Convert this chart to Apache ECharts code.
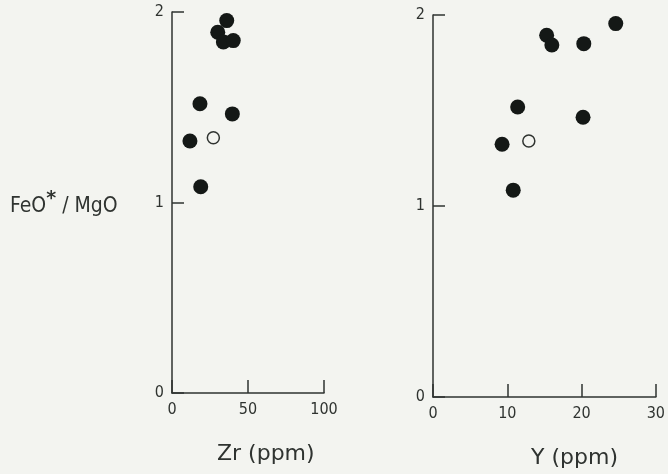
<!DOCTYPE html>
<html>
<head>
<meta charset="utf-8">
<script src="https://cdn.jsdelivr.net/npm/echarts@6/dist/echarts.min.js"></script>
<style>
  html, body { margin: 0; padding: 0; background: #f3f4f0; }
  #chart { width: 668px; height: 474px; }
</style>
</head>
<body>
<div id="chart"></div>
<script>
// FeO*/MgO ratio for each sample (shared by both panels)
const feoMgo = [1.955, 1.894, 1.843, 1.850, 1.518, 1.465, 1.323, 1.083];
const zrPpm  = [36.0, 30.1, 33.8, 40.3, 18.4, 39.7, 11.8, 18.9];
const yPpm   = [24.6, 15.3, 16.0, 20.3, 11.4, 20.2, 9.3, 10.8];

// the one sample drawn as an open circle
const openRatio = [1.34];
const openZr = [27.2];
const openY = [12.9];

const zrTicks = [0, 50, 100];
const yTicks = [0, 10, 20, 30];
const ratioTicks = [0, 1, 2];

const ink = '#2f3330';
const dot = '#141816';
const paper = '#f3f4f0';
const font = 'DejaVu Sans';
const narrow = '"DejaVu Sans Condensed", "Liberation Sans Narrow", "DejaVu Sans"';

function pairs(xs, ys) { return xs.map((x, i) => [x, ys[i]]); }

function xAxisFor(gridIndex, ticks) {
  return {
    type: 'value', gridIndex,
    min: ticks[0], max: ticks[ticks.length - 1], interval: ticks[1] - ticks[0],
    axisLine: { show: true, lineStyle: { color: ink, width: 1.5 } },
    axisTick: { show: true, inside: true, length: 13, lineStyle: { color: ink, width: 1.5 } },
    axisLabel: { color: ink, fontFamily: narrow, fontSize: 16, margin: 9 },
    splitLine: { show: false }
  };
}
function yAxisFor(gridIndex) {
  return {
    type: 'value', gridIndex,
    min: ratioTicks[0], max: ratioTicks[ratioTicks.length - 1], interval: 1,
    axisLine: { show: true, lineStyle: { color: ink, width: 1.5 } },
    axisTick: { show: true, inside: true, length: 12, lineStyle: { color: ink, width: 1.5 } },
    axisLabel: { color: ink, fontFamily: narrow, fontSize: 16, margin: 8 },
    splitLine: { show: false }
  };
}

const chart = echarts.init(document.getElementById('chart'), null, { renderer: 'canvas' });
chart.setOption({
  backgroundColor: paper,
  animation: false,
  grid: [
    { left: 172, right: 344, top: 12, bottom: 81 },
    { left: 433, right: 9, top: 15, bottom: 77 }
  ],
  xAxis: [xAxisFor(0, zrTicks), xAxisFor(1, yTicks)],
  yAxis: [yAxisFor(0), yAxisFor(1)],
  series: [
    { type: 'scatter', xAxisIndex: 0, yAxisIndex: 0, symbolSize: 15,
      itemStyle: { color: dot, opacity: 1 }, data: pairs(zrPpm, feoMgo) },
    { type: 'scatter', xAxisIndex: 0, yAxisIndex: 0, symbolSize: 12,
      itemStyle: { color: paper, borderColor: ink, borderWidth: 1.5, opacity: 1 }, data: pairs(openZr, openRatio) },
    { type: 'scatter', xAxisIndex: 1, yAxisIndex: 1, symbolSize: 15,
      itemStyle: { color: dot, opacity: 1 }, data: pairs(yPpm, feoMgo) },
    { type: 'scatter', xAxisIndex: 1, yAxisIndex: 1, symbolSize: 12,
      itemStyle: { color: paper, borderColor: ink, borderWidth: 1.5, opacity: 1 }, data: pairs(openY, openRatio) }
  ],
  graphic: [
    { type: 'text', left: 10, top: 190,
      style: {
        text: '{a|FeO}{s|*}{a| / MgO}',
        rich: {
          a: { fontFamily: narrow, fontSize: 21, fill: ink },
          s: { fontFamily: font, fontSize: 19, fontWeight: 'bold', fill: ink, padding: [0, 0, 14, 0] }
        }
      } },
    { type: 'text', left: 217, top: 443,
      style: { text: 'Zr (ppm)', fontFamily: font, fontSize: 22, fill: ink } },
    { type: 'text', left: 531, top: 447,
      style: { text: 'Y (ppm)', fontFamily: font, fontSize: 22, fill: ink } }
  ]
});
</script>
</body>
</html>
